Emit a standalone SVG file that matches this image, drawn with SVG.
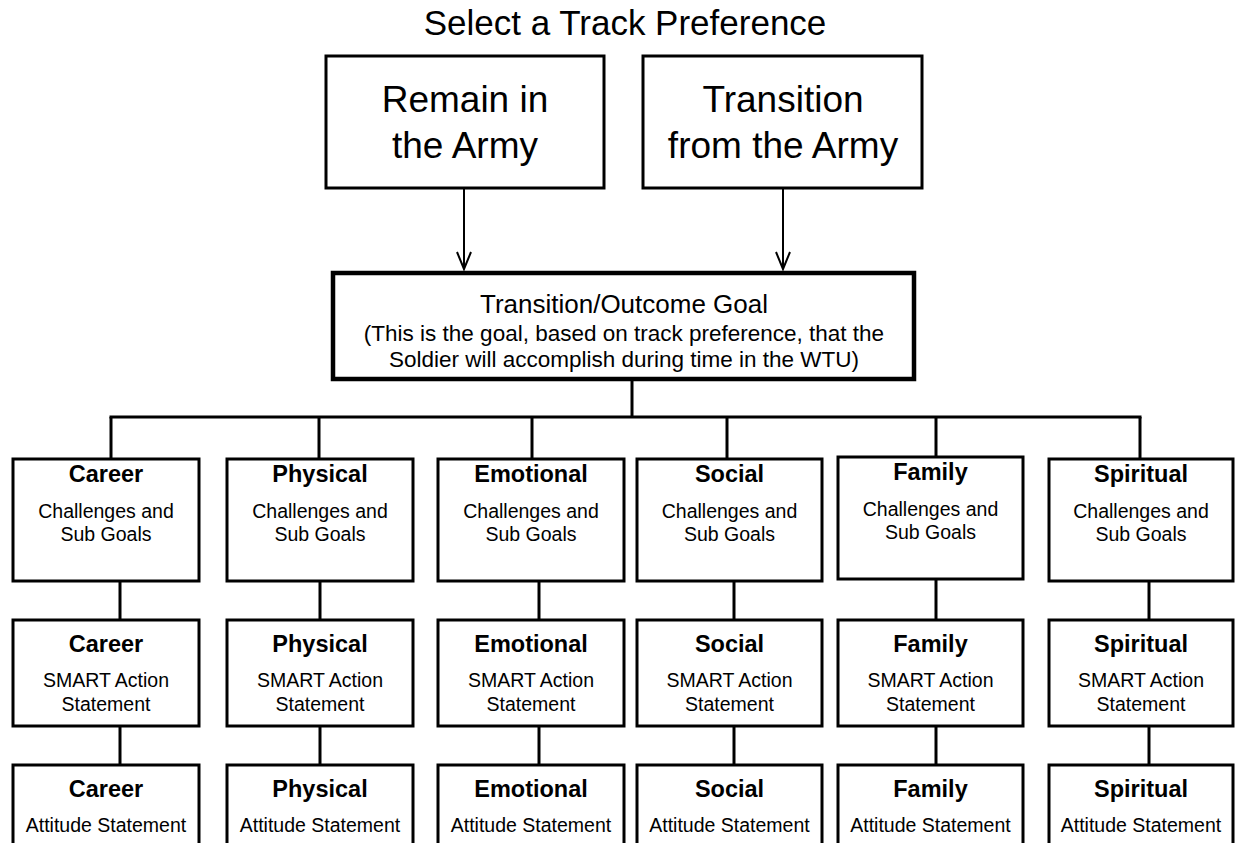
<svg xmlns="http://www.w3.org/2000/svg" width="1235" height="843" viewBox="0 0 1235 843">
<defs>
<style>
text{font-family:"Liberation Sans",Arial,sans-serif;fill:#000;text-anchor:middle}
.box{fill:#fff;stroke:#000;stroke-width:3}
.goal{fill:#fff;stroke:#000;stroke-width:4.5}
.big{font-size:37px}
.title{font-size:35px}
.g1{font-size:26px}
.g2{font-size:22.5px}
.hd{font-size:23.5px;font-weight:bold}
.sub{font-size:19.5px}
.ln{stroke:#000;stroke-width:3;fill:none}
.ar{stroke:#000;stroke-width:2;fill:none}
</style>
<marker id="arr" markerUnits="userSpaceOnUse" viewBox="-20 -10 24 20" refX="0" refY="0" markerWidth="24" markerHeight="20" orient="auto" overflow="visible">
<path d="M-17,-7 L0,0 L-17,7" fill="none" stroke="#000" stroke-width="2"/>
</marker>
</defs>
<rect width="1235" height="843" fill="#fff"/>
<text class="title" x="625" y="35">Select a Track Preference</text>

<g id="connectors">
<line class="ar" x1="464" y1="188" x2="464" y2="269" marker-end="url(#arr)"/>
<line class="ar" x1="783" y1="188" x2="783" y2="269" marker-end="url(#arr)"/>
<line class="ln" x1="632" y1="380" x2="632" y2="417"/>
<line class="ln" x1="109.5" y1="417" x2="1141.5" y2="417"/>
<line class="ln" x1="111" y1="417" x2="111" y2="459"/>
<line class="ln" x1="319" y1="417" x2="319" y2="459"/>
<line class="ln" x1="532" y1="417" x2="532" y2="459"/>
<line class="ln" x1="727" y1="417" x2="727" y2="459"/>
<line class="ln" x1="936" y1="417" x2="936" y2="457"/>
<line class="ln" x1="1140" y1="417" x2="1140" y2="459"/>
<line class="ln" x1="120" y1="581" x2="120" y2="620"/>
<line class="ln" x1="120" y1="726" x2="120" y2="765"/>
<line class="ln" x1="320" y1="581" x2="320" y2="620"/>
<line class="ln" x1="320" y1="726" x2="320" y2="765"/>
<line class="ln" x1="539" y1="581" x2="539" y2="620"/>
<line class="ln" x1="539" y1="726" x2="539" y2="765"/>
<line class="ln" x1="734" y1="581" x2="734" y2="620"/>
<line class="ln" x1="734" y1="726" x2="734" y2="765"/>
<line class="ln" x1="936" y1="579" x2="936" y2="620"/>
<line class="ln" x1="936" y1="726" x2="936" y2="765"/>
<line class="ln" x1="1149" y1="581" x2="1149" y2="620"/>
<line class="ln" x1="1149" y1="726" x2="1149" y2="765"/>
</g>

<g id="remain">
<rect class="box" x="326" y="56" width="278" height="132"/>
<text class="big" x="465" y="112">Remain in</text>
<text class="big" x="465" y="158">the Army</text>
</g>
<g id="transition">
<rect class="box" x="643" y="56" width="279" height="132"/>
<text class="big" x="783" y="112">Transition</text>
<text class="big" x="783" y="158">from the Army</text>
</g>
<g id="goal">
<rect class="goal" x="333" y="273" width="581" height="106"/>
<text class="g1" x="624" y="313">Transition/Outcome Goal</text>
<text class="g2" x="624" y="341">(This is the goal, based on track preference, that the</text>
<text class="g2" x="624" y="367">Soldier will accomplish during time in the WTU)</text>
</g>

<g id="career-challenges"><rect class="box" x="13" y="459" width="186" height="122"/><text class="hd" x="106" y="482">Career</text><text class="sub" x="106" y="518">Challenges and</text><text class="sub" x="106" y="541">Sub Goals</text></g>
<g id="physical-challenges"><rect class="box" x="227" y="459" width="186" height="122"/><text class="hd" x="320" y="482">Physical</text><text class="sub" x="320" y="518">Challenges and</text><text class="sub" x="320" y="541">Sub Goals</text></g>
<g id="emotional-challenges"><rect class="box" x="438" y="459" width="186" height="122"/><text class="hd" x="531" y="482">Emotional</text><text class="sub" x="531" y="518">Challenges and</text><text class="sub" x="531" y="541">Sub Goals</text></g>
<g id="social-challenges"><rect class="box" x="637" y="459" width="185" height="122"/><text class="hd" x="729.5" y="482">Social</text><text class="sub" x="729.5" y="518">Challenges and</text><text class="sub" x="729.5" y="541">Sub Goals</text></g>
<g id="family-challenges"><rect class="box" x="838" y="457" width="185" height="122"/><text class="hd" x="930.5" y="480">Family</text><text class="sub" x="930.5" y="516">Challenges and</text><text class="sub" x="930.5" y="539">Sub Goals</text></g>
<g id="spiritual-challenges"><rect class="box" x="1049" y="459" width="184" height="122"/><text class="hd" x="1141" y="482">Spiritual</text><text class="sub" x="1141" y="518">Challenges and</text><text class="sub" x="1141" y="541">Sub Goals</text></g>

<g id="career-smart"><rect class="box" x="13" y="620" width="186" height="106"/><text class="hd" x="106" y="652">Career</text><text class="sub" x="106" y="687">SMART Action</text><text class="sub" x="106" y="711">Statement</text></g>
<g id="physical-smart"><rect class="box" x="227" y="620" width="186" height="106"/><text class="hd" x="320" y="652">Physical</text><text class="sub" x="320" y="687">SMART Action</text><text class="sub" x="320" y="711">Statement</text></g>
<g id="emotional-smart"><rect class="box" x="438" y="620" width="186" height="106"/><text class="hd" x="531" y="652">Emotional</text><text class="sub" x="531" y="687">SMART Action</text><text class="sub" x="531" y="711">Statement</text></g>
<g id="social-smart"><rect class="box" x="637" y="620" width="185" height="106"/><text class="hd" x="729.5" y="652">Social</text><text class="sub" x="729.5" y="687">SMART Action</text><text class="sub" x="729.5" y="711">Statement</text></g>
<g id="family-smart"><rect class="box" x="838" y="620" width="185" height="106"/><text class="hd" x="930.5" y="652">Family</text><text class="sub" x="930.5" y="687">SMART Action</text><text class="sub" x="930.5" y="711">Statement</text></g>
<g id="spiritual-smart"><rect class="box" x="1049" y="620" width="184" height="106"/><text class="hd" x="1141" y="652">Spiritual</text><text class="sub" x="1141" y="687">SMART Action</text><text class="sub" x="1141" y="711">Statement</text></g>

<g id="career-attitude"><rect class="box" x="13" y="765" width="186" height="110"/><text class="hd" x="106" y="797">Career</text><text class="sub" x="106" y="832">Attitude Statement</text></g>
<g id="physical-attitude"><rect class="box" x="227" y="765" width="186" height="110"/><text class="hd" x="320" y="797">Physical</text><text class="sub" x="320" y="832">Attitude Statement</text></g>
<g id="emotional-attitude"><rect class="box" x="438" y="765" width="186" height="110"/><text class="hd" x="531" y="797">Emotional</text><text class="sub" x="531" y="832">Attitude Statement</text></g>
<g id="social-attitude"><rect class="box" x="637" y="765" width="185" height="110"/><text class="hd" x="729.5" y="797">Social</text><text class="sub" x="729.5" y="832">Attitude Statement</text></g>
<g id="family-attitude"><rect class="box" x="838" y="765" width="185" height="110"/><text class="hd" x="930.5" y="797">Family</text><text class="sub" x="930.5" y="832">Attitude Statement</text></g>
<g id="spiritual-attitude"><rect class="box" x="1049" y="765" width="184" height="110"/><text class="hd" x="1141" y="797">Spiritual</text><text class="sub" x="1141" y="832">Attitude Statement</text></g>
</svg>
